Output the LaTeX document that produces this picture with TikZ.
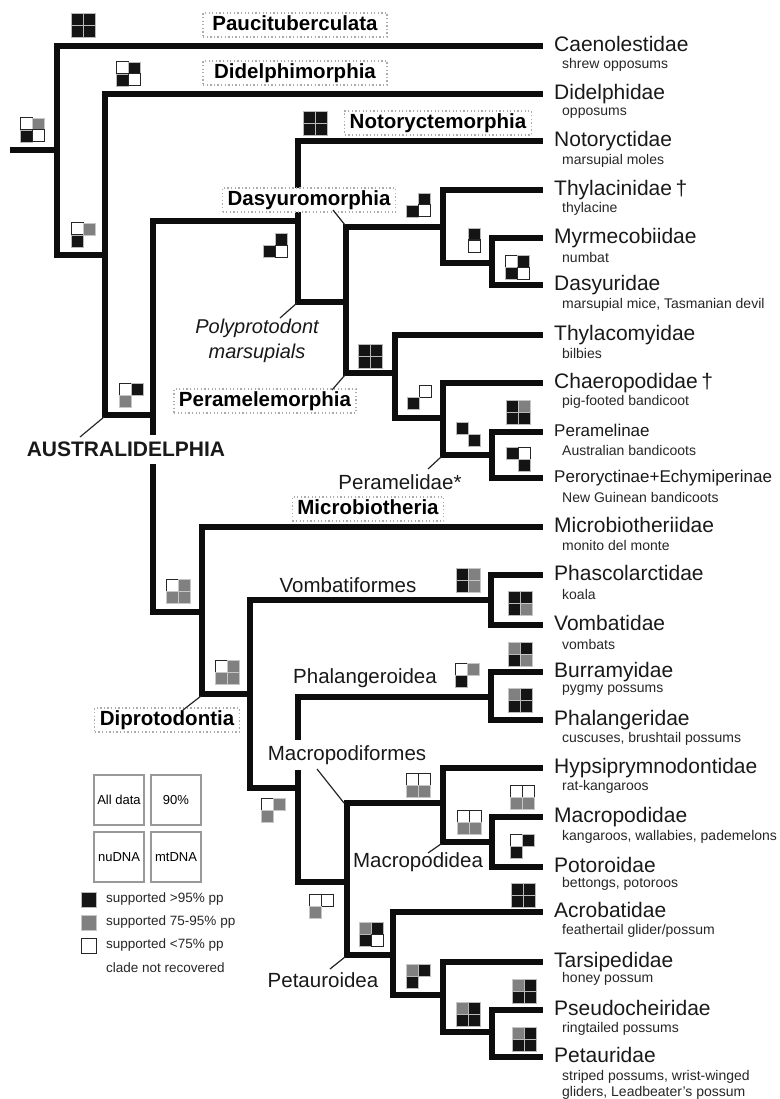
\documentclass[tikz,border=0pt]{standalone}
\usepackage{fontspec}
\setmainfont{Liberation Sans}
\newcommand\onecell[3]{\if#3n\else\path[cell#3] (#1,#2) rectangle ++(12,12);\fi}
\newcommand\supp[6]{\onecell{#1}{#2}{#3}\onecell{#1+12}{#2}{#4}\onecell{#1}{#2+12}{#5}\onecell{#1+12}{#2+12}{#6}}
\begin{document}
\begin{tikzpicture}[x=1pt,y=-1pt,
  br/.style={line width=6pt, line join=miter, line cap=butt, draw=black!95},
  leaf/.style={anchor=west, inner xsep=11pt, inner ysep=0pt, font=\fontsize{21}{24}\selectfont, text height=15pt, text depth=4pt, text=black!90},
  subleaf/.style={leaf, font=\fontsize{17}{20}\selectfont, text height=12.5pt, text depth=3.5pt},
  common/.style={anchor=west, inner sep=0pt, font=\fontsize{14}{16}\selectfont, text=black!85},
  grp/.style={draw=gray!65, dash pattern=on 1.3pt off 2.3pt, line width=1.3pt, fill=white, font=\bfseries\fontsize{20.5}{24}\selectfont, inner xsep=5pt, inner ysep=2.5pt, text height=15pt, text depth=4pt},
  lbl/.style={font=\fontsize{20.5}{24}\selectfont, inner sep=1pt, text=black!90},
  lead/.style={line width=1.2pt, draw=black!85},
  cellk/.style={fill=black!92, draw=gray!55, line width=0.7pt},
  cellg/.style={fill=black!50, draw=gray!45, line width=0.7pt},
  cellw/.style={fill=white, draw=black!85, line width=1pt},
  legbox/.style={draw=gray!80, line width=1.2pt, minimum size=50pt, inner sep=0pt, font=\fontsize{13}{15}\selectfont},
  legtxt/.style={anchor=west, inner sep=0pt, font=\fontsize{13.5}{16}\selectfont, text=black!85},
]
\useasboundingbox (0,0) rectangle (779,1099);

% ---------- leaves ----------
\node[leaf] (caeno) at (543,46) {Caenolestidae};
\node[leaf] (didel) at (543,94) {Didelphidae};
\node[leaf] (noto) at (543,141) {Notoryctidae};
\node[leaf] (thyl) at (543,190) {Thylacinidae\,†};
\node[leaf] (myrm) at (543,238) {Myrmecobiidae};
\node[leaf] (dasy) at (543,285) {Dasyuridae};
\node[leaf] (thylm) at (543,335) {Thylacomyidae};
\node[leaf] (chaer) at (543,383) {Chaeropodidae\,†};
\node[subleaf] (peram) at (543,432) {Peramelinae};
\node[subleaf] (peror) at (543,478) {Peroryctinae+Echymiperinae};
\node[leaf] (micro) at (543,527) {Microbiotheriidae};
\node[leaf] (phasc) at (543,575) {Phascolarctidae};
\node[leaf] (vomb) at (543,625) {Vombatidae};
\node[leaf] (burr) at (543,672) {Burramyidae};
\node[leaf] (phal) at (543,720) {Phalangeridae};
\node[leaf] (hyps) at (543,768) {Hypsiprymnodontidae};
\node[leaf] (macrop) at (543,817) {Macropodidae};
\node[leaf] (potor) at (543,867) {Potoroidae};
\node[leaf] (acro) at (543,912) {Acrobatidae};
\node[leaf] (tars) at (543,962) {Tarsipedidae};
\node[leaf] (pseudo) at (543,1010) {Pseudocheiridae};
\node[leaf] (petaur) at (543,1057) {Petauridae};

% ---------- common names ----------
\node[common] (caeno-c) at (562,65) {shrew opposums};
\node[common] (didel-c) at (562,113) {opposums};
\node[common] (noto-c) at (562,161) {marsupial moles};
\node[common] (thyl-c) at (562,209) {thylacine};
\node[common] (myrm-c) at (562,257) {numbat};
\node[common] (dasy-c) at (562,305) {marsupial mice, Tasmanian devil};
\node[common] (thylm-c) at (562,353) {bilbies};
\node[common] (chaer-c) at (562,402) {pig-footed bandicoot};
\node[common] (peram-c) at (562,450) {Australian bandicoots};
\node[common] (peror-c) at (562,497) {New Guinean bandicoots};
\node[common] (micro-c) at (562,545) {monito del monte};
\node[common] (phasc-c) at (562,594) {koala};
\node[common] (vomb-c) at (562,644) {vombats};
\node[common] (burr-c) at (562,690) {pygmy possums};
\node[common] (phal-c) at (562,739) {cuscuses, brushtail possums};
\node[common] (hyps-c) at (562,787) {rat-kangaroos};
\node[common] (macrop-c) at (562,837) {kangaroos, wallabies, pademelons};
\node[common] (potor-c) at (562,884) {bettongs, potoroos};
\node[common] (acro-c) at (562,931) {feathertail glider/possum};
\node[common] (tars-c) at (562,979) {honey possum};
\node[common] (pseudo-c) at (562,1029) {ringtailed possums};
\node[common, align=left, font=\fontsize{14}{16}\selectfont] (petaur-c) at (562,1085) {striped possums, wrist-winged\\gliders, Leadbeater's possum};

% ---------- internal nodes ----------
\coordinate (stub) at (10,150);
\coordinate (R) at (57,150);
\coordinate (N2) at (105,255);
\coordinate (A) at (153,415);
\coordinate (P) at (298,221);
\coordinate (DP) at (346,302);
\coordinate (D) at (443,227);
\coordinate (MD) at (492,263);
\coordinate (Pe) at (395,373);
\coordinate (CP) at (443,418);
\coordinate (Pm) at (492,455);
\coordinate (MDi) at (202,612);
\coordinate (Di) at (250,694);
\coordinate (V) at (491,600);
\coordinate (Ph) at (298,788);
\coordinate (Pl) at (491,697);
\coordinate (MP) at (347,882);
\coordinate (Ma) at (443,803);
\coordinate (Mad) at (492,842);
\coordinate (Pt) at (393,955);
\coordinate (TP) at (443,995);
\coordinate (PP) at (492,1032);

% ---------- branches ----------
\draw[br] (stub) -- (R);
\draw[br] (R) |- (caeno.west);
\draw[br] (R) |- (N2);
\draw[br] (N2) |- (didel.west);
\draw[br] (N2) |- (A);
\draw[br] (A) |- (P);
\draw[br] (A) |- (MDi);
\draw[br] (P) |- (noto.west);
\draw[br] (P) |- (DP);
\draw[br] (DP) |- (D);
\draw[br] (DP) |- (Pe);
\draw[br] (D) |- (thyl.west);
\draw[br] (D) |- (MD);
\draw[br] (MD) |- (myrm.west);
\draw[br] (MD) |- (dasy.west);
\draw[br] (Pe) |- (thylm.west);
\draw[br] (Pe) |- (CP);
\draw[br] (CP) |- (chaer.west);
\draw[br] (CP) |- (Pm);
\draw[br] (Pm) |- (peram.west);
\draw[br] (Pm) |- (peror.west);
\draw[br] (MDi) |- (micro.west);
\draw[br] (MDi) |- (Di);
\draw[br] (Di) |- (V);
\draw[br] (Di) |- (Ph);
\draw[br] (V) |- (phasc.west);
\draw[br] (V) |- (vomb.west);
\draw[br] (Ph) |- (Pl);
\draw[br] (Ph) |- (MP);
\draw[br] (Pl) |- (burr.west);
\draw[br] (Pl) |- (phal.west);
\draw[br] (MP) |- (Ma);
\draw[br] (MP) |- (Pt);
\draw[br] (Ma) |- (hyps.west);
\draw[br] (Ma) |- (Mad);
\draw[br] (Mad) |- (macrop.west);
\draw[br] (Mad) |- (potor.west);
\draw[br] (Pt) |- (acro.west);
\draw[br] (Pt) |- (TP);
\draw[br] (TP) |- (tars.west);
\draw[br] (TP) |- (PP);
\draw[br] (PP) |- (pseudo.west);
\draw[br] (PP) |- (petaur.west);

% ---------- support squares ----------
\supp{20}{118}{w}{g}{k}{w}
\supp{71}{13}{k}{k}{k}{k}
\supp{116}{62}{w}{k}{k}{w}
\supp{71}{223}{w}{g}{k}{n}
\supp{119}{383}{w}{k}{g}{n}
\supp{303}{111}{k}{k}{k}{k}
\supp{263}{233}{n}{k}{k}{w}
\supp{406}{193}{n}{k}{k}{w}
\supp{468}{228}{k}{n}{w}{n}
\supp{505}{255}{w}{k}{k}{w}
\supp{358}{344}{k}{k}{k}{k}
\supp{407}{385}{n}{w}{k}{n}
\supp{456}{422}{k}{n}{n}{k}
\supp{506}{400}{k}{g}{k}{k}
\supp{506}{447}{k}{w}{n}{k}
\supp{166}{579}{w}{g}{g}{g}
\supp{215}{660}{w}{g}{g}{g}
\supp{456}{568}{k}{g}{k}{g}
\supp{508}{591}{k}{k}{k}{g}
\supp{455}{663}{w}{g}{k}{n}
\supp{508}{642}{g}{k}{k}{g}
\supp{508}{688}{g}{k}{k}{k}
\supp{261}{798}{w}{g}{g}{n}
\supp{309}{894}{w}{w}{g}{n}
\supp{406}{773}{w}{w}{g}{g}
\supp{510}{785}{w}{w}{g}{g}
\supp{457}{810}{w}{w}{g}{g}
\supp{510}{834}{w}{k}{k}{n}
\supp{359}{922}{g}{k}{k}{w}
\supp{511}{883}{k}{k}{k}{k}
\supp{406}{964}{g}{k}{k}{n}
\supp{512}{979}{g}{k}{k}{k}
\supp{456}{1002}{g}{k}{k}{k}
\supp{512}{1027}{g}{k}{k}{k}

% ---------- clade labels ----------
\node[grp, minimum width=184pt] (pauci) at (295,25) {Paucituberculata};
\node[grp, minimum width=184pt] (didelm) at (295,73) {Didelphimorphia};
\node[grp] (notom) at (438,123) {Notoryctemorphia};
\node[grp] (dasym) at (309,200) {Dasyuromorphia};
\node[grp] (peramm) at (265,401) {Peramelemorphia};
\node[grp] (microm) at (368,509) {Microbiotheria};
\node[grp] (diprom) at (167,720) {Diprotodontia};

\node[lbl, font=\bfseries\fontsize{21}{24}\selectfont, fill=white, inner xsep=2pt, inner ysep=7pt, text height=15pt, text depth=0pt] (aus) at (126,449) {AUSTRALIDELPHIA};
\node[lbl, font=\itshape\fontsize{20}{25}\selectfont, align=center] (poly) at (257,341) {Polyprotodont\\marsupials};
\node[lbl] (vombf) at (348,585) {Vombatiformes};
\node[lbl] (phalg) at (365,678) {Phalangeroidea};
\node[lbl, fill=white, inner xsep=2pt, inner ysep=5.5pt, text height=15pt, text depth=4pt] (macrof) at (347,755) {Macropodiformes};
\node[lbl] (macrod) at (418,862) {Macropodidea};
\node[lbl] (peramd) at (400,482) {Peramelidae*};
\node[lbl] (petaud) at (323,980) {Petauroidea};

% ---------- leader lines ----------
\coordinate (ausL) at (80,437);   \coordinate (ausC) at (104,417);
\coordinate (polyL) at (280,318); \coordinate (polyC) at (297,303);
\coordinate (dasL) at (333,210);  \coordinate (dasC) at (345,225);
\coordinate (perL) at (332,390);  \coordinate (perC) at (345,375);
\coordinate (pmdL) at (428,469);  \coordinate (pmdC) at (441,457);
\coordinate (dipL) at (183,710);  \coordinate (dipC) at (201,696);
\coordinate (mafL) at (317,769);  \coordinate (mafC) at (344,803);
\coordinate (madL) at (428,853);  \coordinate (madC) at (441,844);
\coordinate (ptL) at (330,969);   \coordinate (ptC) at (345,957);
\draw[lead] (ausL) -- (ausC);
\draw[lead] (polyL) -- (polyC);
\draw[lead] (dasL) -- (dasC);
\draw[lead] (perL) -- (perC);
\draw[lead] (pmdL) -- (pmdC);
\draw[lead] (dipL) -- (dipC);
\draw[lead] (mafL) -- (mafC);
\draw[lead] (madL) -- (madC);
\draw[lead] (ptL) -- (ptC);

% ---------- legend ----------
\node[legbox] (lgAll) at (119,800) {All data};
\node[legbox] (lg90) at (176,800) {90\%};
\node[legbox] (lgNu) at (119,857) {nuDNA};
\node[legbox] (lgMt) at (176,857) {mtDNA};
\path[cellk] (81,892) rectangle ++(15,15);
\path[cellg] (81,915) rectangle ++(15,15);
\path[cellw] (81,938) rectangle ++(15,15);
\node[legtxt] (lt1) at (106,899) {supported >95\% pp};
\node[legtxt] (lt2) at (106,922) {supported 75-95\% pp};
\node[legtxt] (lt3) at (106,945) {supported <75\% pp};
\node[legtxt] (lt4) at (106,968) {clade not recovered};
\end{tikzpicture}
\end{document}
